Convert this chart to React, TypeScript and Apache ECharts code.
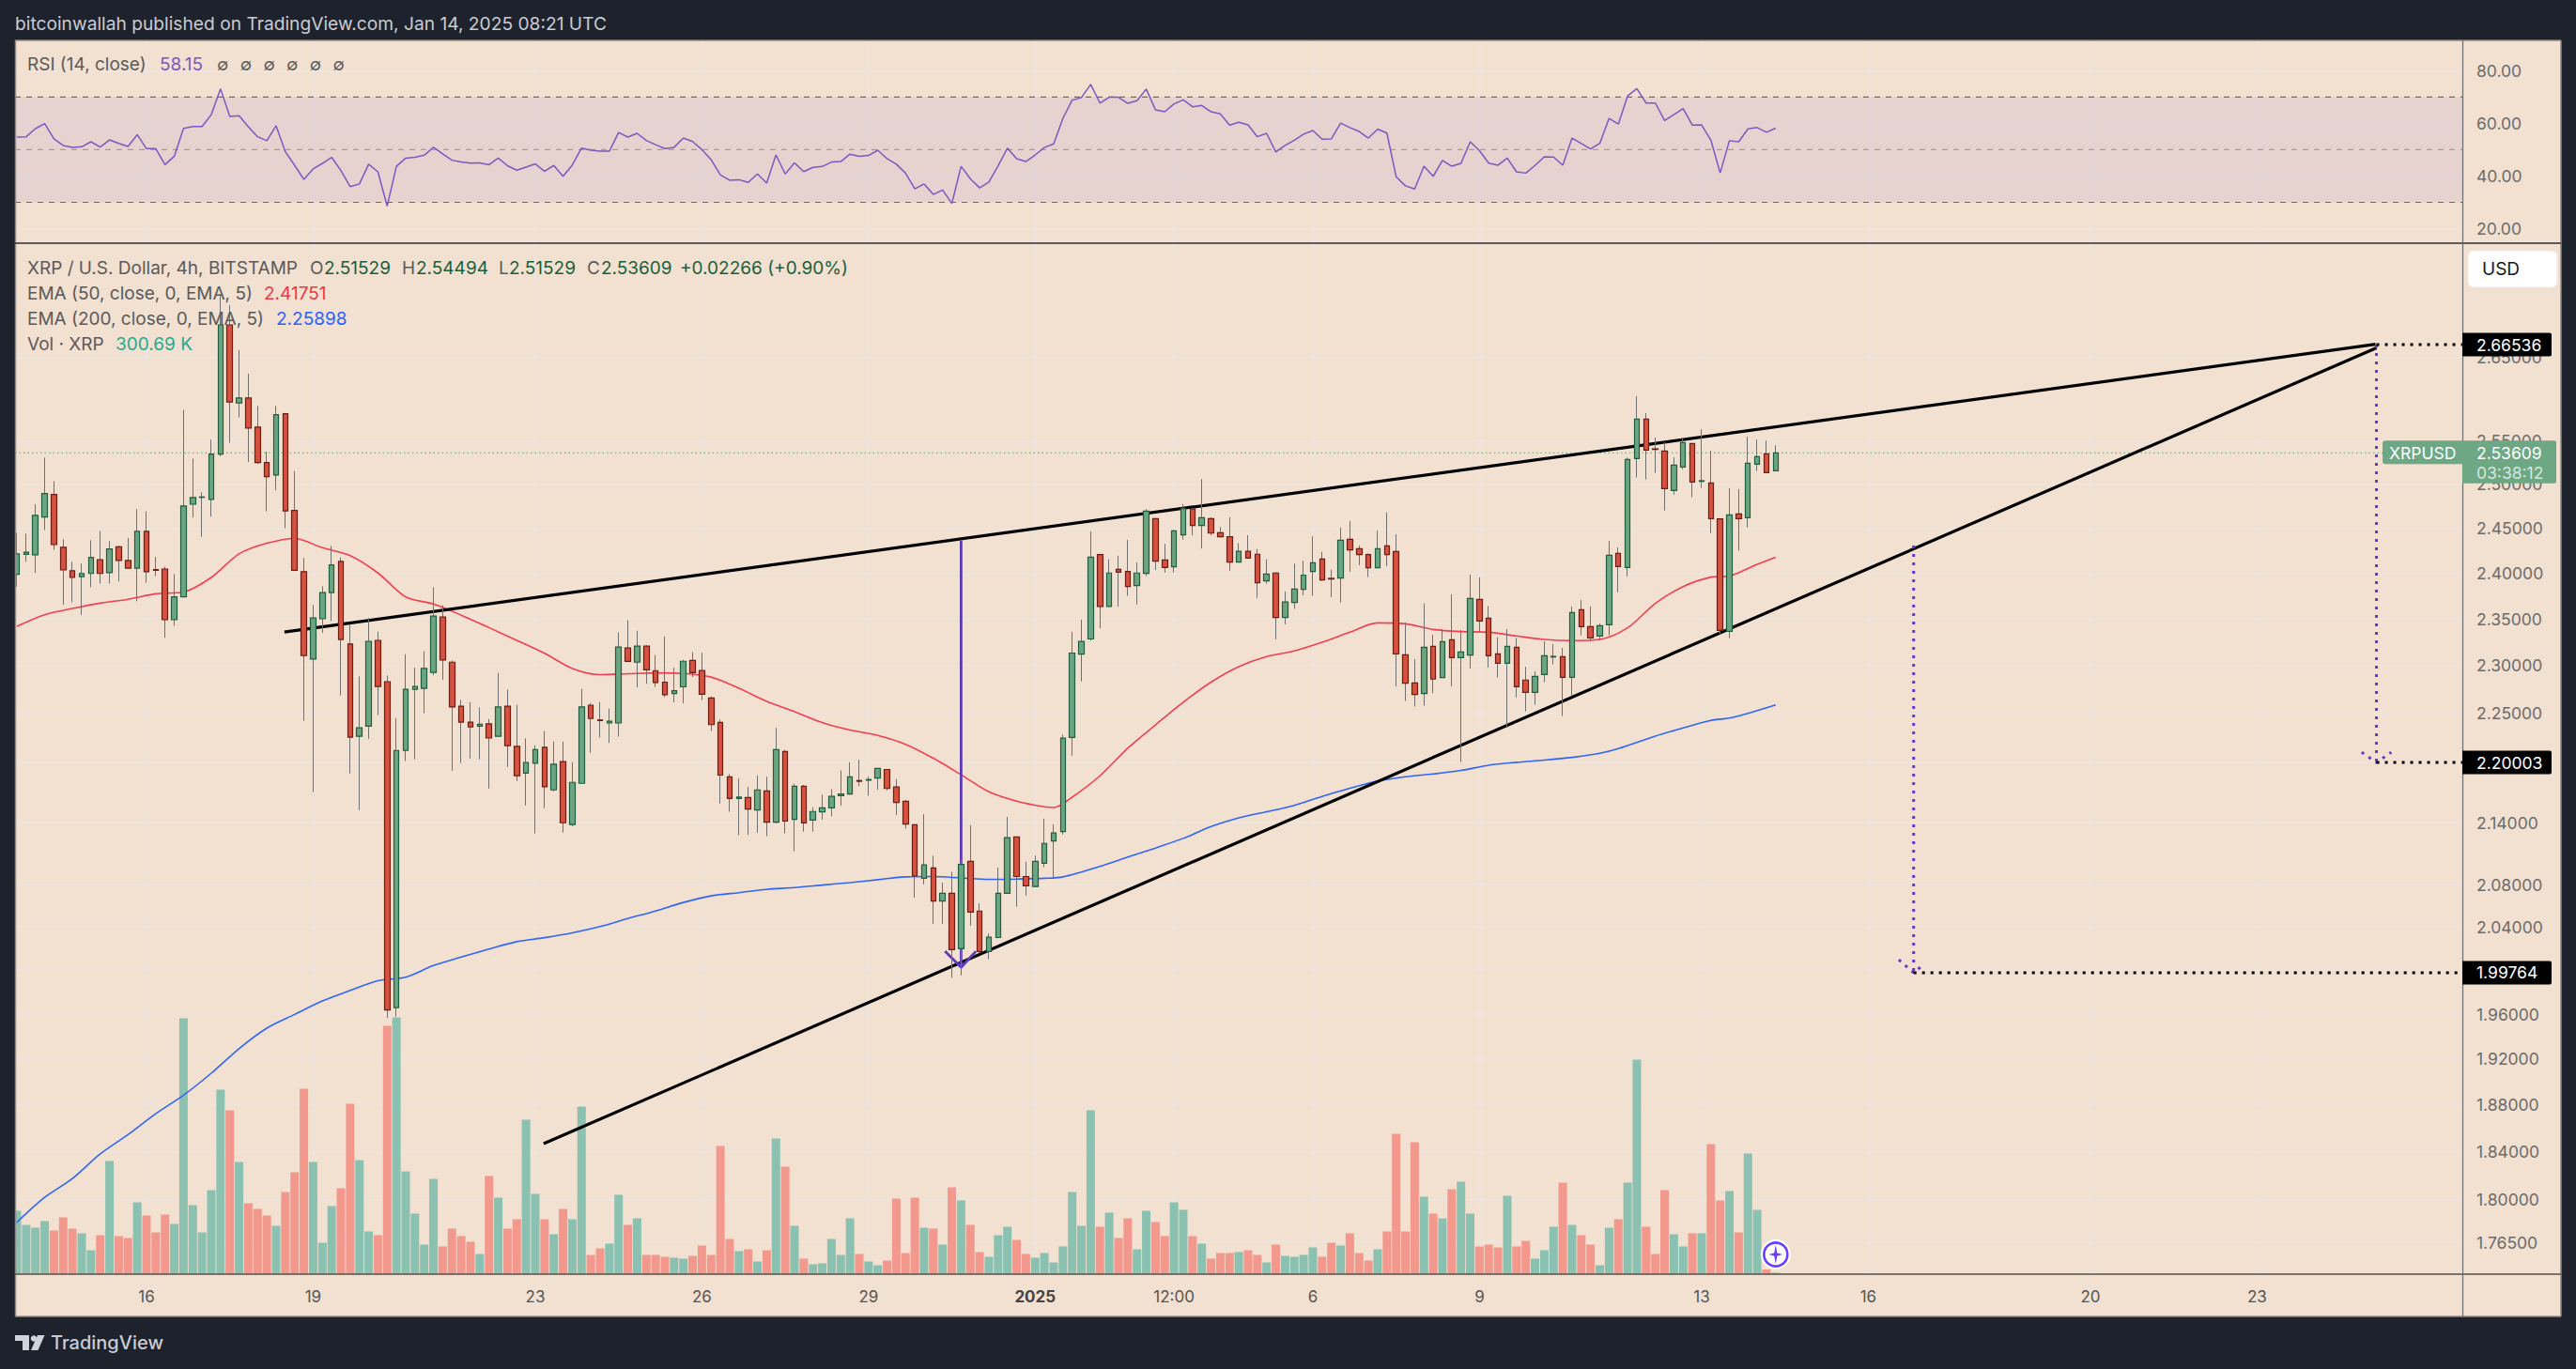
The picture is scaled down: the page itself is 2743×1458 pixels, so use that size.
import React, { useEffect, useRef } from "react";
import * as echarts from "echarts";

const opens = [2.3985,2.4207,2.4202,2.4624,2.4881,2.4285,2.4024,2.3961,2.3995,2.4148,
2.4005,2.429,2.4138,2.4054,2.4463,2.4038,2.4044,2.3491,2.3738,2.477,
2.4848,2.4825,2.5346,2.6896,2.595,2.6009,2.5663,2.5249,2.5105,2.582,
2.4699,2.4015,2.307,2.3501,2.3786,2.4128,2.3231,2.2267,2.2371,2.3269,
2.2832,1.9658,2.2122,2.2753,2.2762,2.2929,2.352,2.3037,2.2577,2.2412,
2.2371,2.2394,2.2267,2.2577,2.2163,2.1894,2.1992,2.2154,2.1725,2.201,
2.1382,2.1791,2.2587,2.2434,2.2403,2.2403,2.3188,2.3037,2.3207,2.2948,
2.2827,2.2707,2.2778,2.3055,2.2949,2.2662,2.2408,2.1855,2.1639,2.165,
2.1526,2.1714,2.1405,2.2112,2.1433,2.1761,2.1426,2.1508,2.1547,2.1668,
2.1685,2.1819,2.1822,2.1844,2.193,2.1754,2.1611,2.138,2.0861,2.0961,
2.0645,2.0717,2.0198,2.1023,2.055,2.0171,2.0301,2.0717,2.1261,2.0878,
2.0782,2.1006,2.1222,2.1313,2.2254,2.3123,2.3284,2.4204,2.3635,2.404,
2.4017,2.3863,2.3997,2.4606,2.4144,2.4069,2.4424,2.4715,2.4529,2.4606,
2.4448,2.4404,2.412,2.424,2.4208,2.3914,2.4,2.3515,2.3678,2.382,
2.4017,2.4155,2.3941,2.3944,2.4375,2.427,2.4204,2.4058,2.4301,2.4238,
2.3116,2.2819,2.2708,2.3206,2.2875,2.3276,2.3086,2.3112,2.3711,2.3507,
2.3126,2.3026,2.3196,2.2849,2.2721,2.2908,2.3092,2.3096,2.2878,2.3599,
2.3416,2.3316,2.3436,2.4218,2.4061,2.5295,2.5758,2.5408,2.5383,2.4927,
2.5197,2.547,2.5031,2.5013,2.4604,2.3366,2.466,2.4618,2.523,2.535,
2.51529];

const closes = [2.4212,2.4231,2.4644,2.4891,2.4315,2.4034,2.3951,2.3995,2.4172,2.3995,
2.4266,2.4138,2.4054,2.4463,2.4015,2.403,2.3491,2.3738,2.475,2.4846,
2.4853,2.5346,2.6896,2.5961,2.6009,2.5652,2.5249,2.5085,2.5809,2.4694,
2.4029,2.3108,2.351,2.3786,2.4089,2.3278,2.2258,2.2353,2.3259,2.2781,
1.9638,2.2122,2.2753,2.2781,2.2971,2.353,2.306,2.2568,2.2412,2.2362,
2.2389,2.2249,2.2568,2.2172,2.1867,2.2001,2.2131,2.1756,2.1983,2.14,
2.18,2.2568,2.2449,2.2428,2.2421,2.3198,2.3046,2.3207,2.2957,2.2823,
2.2696,2.2737,2.3047,2.2926,2.27,2.2386,2.1873,2.1639,2.1653,2.1536,
2.1725,2.1405,2.213,2.1416,2.1761,2.1398,2.1511,2.1547,2.166,2.1685,
2.1855,2.1811,2.1829,2.1941,2.1739,2.16,2.1387,2.0885,2.0989,2.0645,
2.0717,2.0188,2.0995,2.054,2.0171,2.0304,2.0717,2.1254,2.0878,2.0789,
2.1023,2.1198,2.1299,2.2247,2.3134,2.3257,2.4176,2.3635,2.4,2.4009,
2.3851,2.4,2.4691,2.4132,2.4061,2.4468,2.472,2.4529,2.4618,2.4444,
2.4404,2.412,2.424,2.4164,2.3894,2.3989,2.3515,2.3682,2.3824,2.3977,
2.4112,2.3924,2.3934,2.4364,2.4256,2.4204,2.4058,2.427,2.4204,2.3126,
2.2816,2.2698,2.3196,2.2859,2.3256,2.3086,2.3146,2.3721,2.3477,2.3106,
2.3026,2.3206,2.278,2.2721,2.2888,2.3106,2.3099,2.2878,2.3569,2.3416,
2.3296,2.3426,2.4197,2.4072,2.5284,2.5758,2.5394,2.5401,2.4949,2.5219,
2.5481,2.5024,2.5039,2.4607,2.3376,2.4649,2.4607,2.5241,2.5317,2.5132,
2.53609];

const highs = [2.4448,2.4438,2.477,2.5305,2.5033,2.4374,2.4123,2.4104,2.4364,2.4468,
2.4354,2.4305,2.4389,2.4715,2.4689,2.4177,2.4069,2.399,2.5866,2.5295,
2.4906,2.5516,2.7258,2.7141,2.6588,2.63,2.5914,2.5376,2.5914,2.583,
2.5151,2.4167,2.3651,2.3854,2.43,2.4172,2.3444,2.2887,2.351,2.3363,
2.2897,2.2453,2.3122,2.298,2.3155,2.3844,2.3646,2.3056,2.2642,2.2619,
2.2563,2.2444,2.2924,2.2749,2.2591,2.2245,2.2176,2.2321,2.2213,2.2213,
2.2005,2.2758,2.261,2.2619,2.255,2.3354,2.3486,2.3373,2.3217,2.3112,
2.3311,2.2979,2.3062,2.3146,2.3138,2.2677,2.2438,2.1884,2.184,2.1754,
2.1869,2.1858,2.2353,2.213,2.1786,2.1775,2.1554,2.1678,2.1732,2.192,
2.2003,2.2028,2.1858,2.1941,2.193,2.1833,2.1625,2.1384,2.1483,2.1079,
2.082,2.0923,2.1044,2.1377,2.0624,2.0338,2.0964,2.1458,2.1261,2.102,
2.1079,2.144,2.1384,2.2284,2.3361,2.3492,2.4464,2.4212,2.4152,2.4192,
2.4367,2.4116,2.4715,2.4614,2.4323,2.448,2.4772,2.4724,2.5057,2.4622,
2.4513,2.4622,2.4331,2.442,2.4267,2.4152,2.4009,2.3796,2.4104,2.4136,
2.4408,2.4235,2.4037,2.4505,2.4579,2.4305,2.4218,2.4473,2.4678,2.4431,
2.3457,2.3069,2.3667,2.3329,2.339,2.3765,2.338,2.3982,2.3951,2.364,
2.3303,2.339,2.3296,2.299,2.2941,2.3259,2.3229,2.3189,2.3633,2.3704,
2.3633,2.345,2.4357,2.4284,2.5306,2.6029,2.5828,2.5539,2.5485,2.531,
2.5539,2.547,2.5639,2.5386,2.4607,2.4953,2.4942,2.555,2.5514,2.5506,
2.54494];

const lows = [2.3849,2.4123,2.4,2.4478,2.4256,2.3651,2.368,2.3545,2.3844,2.3883,
2.3883,2.3907,2.405,2.369,2.3893,2.3966,2.3297,2.3425,2.3738,2.4619,
2.4403,2.4629,2.532,2.5479,2.5778,2.5254,2.5233,2.4689,2.4931,2.4498,
2.402,2.2426,2.1703,2.3349,2.3477,2.2688,2.1889,2.1526,2.224,2.2485,
1.9565,1.9577,2.2014,2.2032,2.2503,2.2901,2.285,2.1916,2.1996,2.2041,
2.2032,2.1738,2.2263,2.1956,2.1814,2.157,2.1295,2.1544,2.1711,2.1304,
2.1365,2.1791,2.2099,2.2253,2.2199,2.2263,2.3037,2.2772,2.2809,2.2776,
2.267,2.2617,2.2606,2.288,2.264,2.232,2.159,2.1508,2.1278,2.1282,
2.1303,2.1268,2.1394,2.1296,2.112,2.1313,2.1313,2.143,2.1465,2.1568,
2.1678,2.1761,2.1668,2.1725,2.1721,2.1476,2.1341,2.0676,2.0803,2.0429,
2.0429,1.9929,1.9951,2.0412,2.0161,2.0101,2.0294,2.0717,2.0591,2.0696,
2.0775,2.0968,2.0865,2.1285,2.2068,2.2835,2.3265,2.3399,2.3632,2.3632,
2.3749,2.3655,2.3965,2.4033,2.4005,2.4005,2.4372,2.442,2.4271,2.442,
2.4396,2.4025,2.4116,2.4164,2.3725,2.3882,2.328,2.3442,2.3608,2.3757,
2.3749,2.3913,2.3735,2.3677,2.4013,2.4085,2.3955,2.4058,2.4075,2.2783,
2.263,2.2572,2.2582,2.2711,2.2875,2.2783,2.2005,2.297,2.3363,2.298,
2.2875,2.2355,2.2669,2.2523,2.2591,2.2826,2.3013,2.2474,2.2679,2.3323,
2.3263,2.3273,2.3323,2.3789,2.3962,2.5075,2.5053,2.5128,2.4699,2.4881,
2.5172,2.4848,2.4956,2.4445,2.3339,2.3293,2.4246,2.4508,2.515,2.5132,
2.51529];

const vols = [13.5,10.5,9.9,11.3,9.3,12.1,9.7,8.7,5.1,8.3,
24.1,8.1,7.7,15.3,12.5,8.9,12.7,10.7,54.5,14.7,
8.9,17.9,39.3,34.9,23.9,15.1,13.9,12.5,10.3,17.5,
21.7,39.5,23.9,6.7,14.5,18.3,36.3,24.3,9.1,8.3,
52.9,54.7,21.9,12.9,6.3,20.3,5.9,9.7,8.1,6.9,
4.3,20.9,16.3,9.7,11.7,32.9,17.1,11.7,8.5,13.9,
11.7,35.7,4.1,5.5,6.5,16.9,10.5,11.9,4.1,4.1,
3.7,3.5,3.3,3.9,6.1,4.1,27.3,7.5,4.9,5.3,
2.7,5.1,28.9,22.9,10.3,3.3,2.1,2.3,7.5,4.1,
11.9,4.3,2.7,1.9,2.9,16.1,4.5,16.3,9.9,9.7,
6.3,18.5,15.7,10.5,4.7,3.7,8.3,10.1,7.3,4.3,
3.5,4.5,2.5,5.9,17.5,10.3,34.9,10.1,13.1,7.7,
11.9,5.3,13.5,11.1,8.1,15.3,13.7,8.1,6.5,3.3,
4.5,4.5,4.7,5.1,4.1,2.5,6.3,3.9,3.7,4.1,
5.7,3.7,6.7,6.1,8.7,4.5,2.9,5.3,9.1,29.9,
9.1,28.1,16.5,12.9,11.9,18.1,19.7,12.9,5.9,6.3,
5.7,16.7,5.9,7.1,3.3,5.1,10.1,19.5,10.5,8.3,
6.3,1.9,9.9,11.7,19.5,45.7,10.1,4.3,17.9,8.5,
5.9,8.7,8.7,27.7,15.7,17.7,8.9,25.7,13.7,1.0,
0.30069];

const rsi = [54.8,54.9,58.0,59.9,54.1,51.6,50.9,51.1,53.0,51.0,
53.7,52.4,51.2,55.7,50.4,50.4,44.3,47.5,58.1,58.8,
58.8,63.3,73.1,62.6,62.9,58.7,54.9,53.4,59.1,49.2,
44.1,38.7,42.7,44.8,47.1,42.1,36.0,37.0,44.5,41.6,
28.6,43.7,46.8,47.1,47.9,50.9,48.4,46.0,45.3,44.9,
45.0,44.3,46.8,43.9,42.2,43.4,44.6,41.8,44.0,39.9,
44.2,50.6,49.8,49.4,49.4,56.5,54.8,56.2,53.5,51.9,
50.4,50.9,54.4,53.1,50.0,46.2,40.4,38.4,38.6,37.6,
40.8,37.3,48.0,40.8,45.0,41.7,43.3,43.6,45.3,45.5,
48.3,47.5,47.8,49.8,46.6,44.5,41.1,35.1,37.0,33.0,
34.7,29.6,43.7,38.9,35.5,37.7,43.9,50.6,46.6,45.5,
48.0,50.8,52.2,61.9,68.8,69.8,74.8,67.7,69.9,69.9,
67.6,68.6,73.0,65.1,64.4,67.4,68.9,66.3,66.8,64.4,
63.6,59.3,60.4,59.4,54.9,56.2,49.1,51.6,53.6,55.9,
57.3,54.0,54.1,60.1,58.4,56.9,54.4,57.8,56.3,39.7,
36.3,35.1,43.7,39.9,45.9,43.7,44.8,53.0,49.6,44.9,
44.1,46.8,41.6,41.1,44.0,47.3,47.2,44.1,54.4,52.3,
50.3,52.4,61.9,59.7,70.4,73.2,67.7,67.7,61.1,63.3,
65.6,59.3,59.4,53.6,41.2,53.4,53.0,57.9,58.4,56.6,
58.15];

const ema50Idx = [0,3,6,9,12,15,18,21,24,27,30,33,36,39,42,45,48,51,54,57,60,63,66,69,
72,75,78,81,84,87,90,93,96,99,102,105,108,111,112,114,117,120,123,126,129,132,135,138,
141,144,147,150,153,156,159,162,165,168,171,174,177,180,183,185,188,190];
const ema50Val = [2.342,2.3545,2.3612,2.367,2.3713,2.3772,2.3791,2.3951,2.4212,2.433,2.4384,2.428,2.4192,2.4,2.3738,2.3661,2.354,2.3406,2.3269,2.3131,2.2971,2.2906,2.2915,2.2924,
2.2918,2.288,2.2763,2.2625,2.252,2.2408,2.2331,2.2276,2.2185,2.2043,2.1877,2.1707,2.1614,2.1557,2.155,2.1653,2.1866,2.2145,2.2383,2.2617,2.2827,2.299,2.3097,2.3157,
2.3249,2.3356,2.3457,2.3447,2.3386,2.3363,2.3356,2.3316,2.3279,2.3266,2.3279,2.3403,2.3667,2.3851,2.3955,2.3968,2.4096,2.41751];

const ema200Idx = [0,3,6,9,12,15,18,21,24,27,30,33,36,39,42,45,48,51,54,57,60,63,66,69,
72,75,78,81,84,87,90,93,96,99,102,105,108,111,113,117,120,123,126,129,132,135,138,
141,144,147,150,153,156,159,162,165,168,171,173,177,180,183,185,187,190];
const ema200Val = [1.7813,1.8018,1.8175,1.8381,1.8545,1.8724,1.8884,1.9075,1.9292,1.9474,1.9597,1.9718,1.9814,1.9903,1.9935,2.0042,2.012,2.0194,2.0263,2.03,2.0345,2.0404,2.0479,2.055,
2.0631,2.0693,2.0724,2.0755,2.0772,2.0796,2.082,2.0848,2.0875,2.0878,2.0865,2.0851,2.0854,2.0861,2.0875,2.0975,2.1065,2.1153,2.1247,2.1362,2.1448,2.1508,2.1572,
2.166,2.1741,2.1813,2.1857,2.1885,2.192,2.1973,2.2002,2.2024,2.2052,2.2093,2.2141,2.2269,2.2352,2.2429,2.2454,2.2503,2.25898];

const priceTicks = [1.765,1.8,1.84,1.88,1.92,1.96,2.0,2.04,2.08,2.14,2.2,2.25,2.3,2.35,2.4,2.45,2.5,2.55,2.65];
const priceLabels = [1.765,1.8,1.84,1.88,1.92,1.96,2.04,2.08,2.14,2.25,2.3,2.35,2.4,2.45,2.5,2.55,2.65];
const rsiTicks = [20,40,60,80];
const timeTickIdx = [14,32,56,74,92,110,125,140,158,182,200,224,242];
const timeTickText = ["16","19","23","26","29","2025","12:00","6","9","13","16","20","23"];

const resistanceLine = [[28.9,2.3358],[254.8,2.6658]];
const supportLine = [[56.9,1.8468],[254.9,2.6613]];
const measureLine = [[102,2.4363],[102,2.0025]];
const measureArrow = [[100.26,2.0174],[102,2.0025],[103.6,2.0174]];
const targetOneLine = [[254.9,2.6653],[254.9,2.20003]];
const targetOneArrow = [[253.3,2.2104],[254.9,2.20003],[256.5,2.2104]];
const targetTwoLine = [[204.9,2.4304],[204.9,1.99764]];
const targetTwoArrow = [[203.3,2.0095],[204.9,1.99764],[206,2.0052]];
const LEVEL_A = 2.66536, LEVEL_B = 2.20003, LEVEL_C = 1.99764, LAST = 2.53609;

const X_MIN = -0.203, X_MAX = 264.18;
const BG = "#F2E0D0", FRAME = "#1E222D";
const FONT = "Inter";

function txt(text: string, x: number, y: number, fill: string, size = 19, extra: any = {}) {
  return { type: "text", z: 60, silent: true, style: { text, x, y, fill, fontSize: size, fontFamily: FONT, verticalAlign: "middle", ...extra } };
}
function box(x: number, y: number, w: number, h: number, fill: string, r: any = 0, z = 55) {
  return { type: "rect", z, silent: true, shape: { x, y, width: w, height: h, r }, style: { fill } };
}
function rule(x1: number, y1: number, x2: number, y2: number, stroke: string, w = 1, z = 50) {
  return { type: "line", z, silent: true, shape: { x1, y1, x2, y2 }, style: { stroke, lineWidth: w } };
}

function plain(name: string, data: number[][], xi: number, yi: number, color: string, width: number, z: number, dash?: any, smooth: any = false) {
  return { name, type: "line", xAxisIndex: xi, yAxisIndex: yi, data, showSymbol: false, symbol: "none", z, silent: true, smooth,
    lineStyle: { color, width, type: dash ?? "solid" } };
}

export default function App() {
  const ref = useRef<HTMLDivElement>(null);
  useEffect(() => {
    document.body.style.margin = "0";
    document.body.style.background = FRAME;
    const chart = echarts.init(ref.current!, null, { renderer: "svg" });
    const idx = opens.map((_, i) => i);
    const xCommon = { type: "value", min: X_MIN, max: X_MAX, axisLine: { show: false },
      splitLine: { show: true, lineStyle: { color: "#ECE6E1", width: 1.5 } },
      axisTick: { show: false, customValues: timeTickIdx } };
    const option: any = {
      animation: false,
      backgroundColor: FRAME,
      grid: [
        { left: 16, top: 43, width: 2606, height: 216 },
        { left: 16, top: 259, width: 2606, height: 1098 },
        { left: 16, top: 1080, width: 2606, height: 277 },
      ],
      xAxis: [
        { ...xCommon, gridIndex: 0, axisLabel: { show: false, customValues: timeTickIdx } },
        { ...xCommon, gridIndex: 1, axisLabel: { show: true, customValues: timeTickIdx, margin: 15, color: "#555555", fontSize: 17, fontFamily: FONT,
            formatter: (v: number) => { const s = timeTickText[timeTickIdx.indexOf(Math.round(v))] ?? ""; return s === "2025" ? "{b|2025}" : s; },
            rich: { b: { fontWeight: 700, fontSize: 17, fontFamily: FONT, color: "#444444" } } } },
        { type: "value", gridIndex: 2, min: X_MIN, max: X_MAX, show: false, splitLine: { show: false } },
      ],
      yAxis: [
        { type: "value", gridIndex: 0, position: "right", min: 14.5, max: 91.5, axisLine: { show: false },
          axisTick: { show: false, customValues: rsiTicks },
          axisLabel: { customValues: rsiTicks, margin: 15, color: "#6B6B6B", fontSize: 17.5, fontFamily: FONT, formatter: (v: number) => v.toFixed(2) },
          splitLine: { show: true, lineStyle: { color: "#ECE6E1", width: 1.5 } } },
        { type: "log", logBase: 10, gridIndex: 1, position: "right", min: 1.7394, max: 2.7924, axisLine: { show: false },
          axisTick: { show: false, customValues: priceTicks },
          axisLabel: { customValues: priceLabels, margin: 15, color: "#6B6B6B", fontSize: 17.5, fontFamily: FONT, formatter: (v: number) => v.toFixed(5), showMinLabel: true, showMaxLabel: true },
          splitLine: { show: true, lineStyle: { color: "#ECE6E1", width: 1.5 } } },
        { type: "value", gridIndex: 2, min: 0, max: 55.4, show: false, splitLine: { show: false } },
      ],
      series: [
        { name: "Vol", type: "bar", xAxisIndex: 2, yAxisIndex: 2, barWidth: 9, z: 2, silent: true,
          data: idx.map((i) => ({ value: [i, vols[i]], itemStyle: { color: closes[i] >= opens[i] ? "#8BC1B1" : "#F3988C" } })) },
        { ...plain("RSI", idx.map((i) => [i, rsi[i]]), 0, 0, "#7E57C2", 1.5, 5),
          markArea: { silent: true, itemStyle: { color: "rgba(126,87,194,0.1)" }, data: [[{ yAxis: 70 }, { yAxis: 30 }]] } },
        plain("RSI upper", [[X_MIN, 70], [X_MAX, 70]], 0, 0, "#6F6A6A", 1.2, 4, [6, 6]),
        plain("RSI mid", [[X_MIN, 50], [X_MAX, 50]], 0, 0, "#A89C94", 1.2, 4, [6, 6]),
        plain("RSI lower", [[X_MIN, 30], [X_MAX, 30]], 0, 0, "#6F6A6A", 1.2, 4, [6, 6]),
        plain("Last", [[X_MIN, LAST], [X_MAX, LAST]], 1, 1, "#5FA27F", 1, 3, [1.5, 3]),
        plain("EMA 50", ema50Idx.map((x, i) => [x, ema50Val[i]]), 1, 1, "#F23F52", 1.6, 6, undefined, 0.3),
        plain("EMA 200", ema200Idx.map((x, i) => [x, ema200Val[i]]), 1, 1, "#2F66F5", 1.6, 6, undefined, 0.3),
        plain("Resistance", resistanceLine, 1, 1, "#000000", 3.2, 7),
        plain("Support", supportLine, 1, 1, "#000000", 3.2, 7),
        plain("Measure", measureLine, 1, 1, "#5B3CB4", 2.8, 7),
        plain("Measure arrow", measureArrow, 1, 1, "#5B3CB4", 2.8, 7),
        plain("Target 1", targetOneLine, 1, 1, "#6A35C8", 3, 7, [3, 6]),
        plain("Target 1 arrow", targetOneArrow, 1, 1, "#6A35C8", 3, 7, [3, 6]),
        plain("Target 2", targetTwoLine, 1, 1, "#6A35C8", 3, 7, [3, 6]),
        plain("Target 2 arrow", targetTwoArrow, 1, 1, "#6A35C8", 3, 7, [3, 6]),
        plain("Level A", [[254.9, LEVEL_A], [X_MAX, LEVEL_A]], 1, 1, "#000000", 3, 7, [3, 6]),
        plain("Level B", [[254.9, LEVEL_B], [X_MAX, LEVEL_B]], 1, 1, "#000000", 3, 7, [3, 6]),
        plain("Level C", [[204.9, LEVEL_C], [X_MAX, LEVEL_C]], 1, 1, "#000000", 3, 7, [3, 6]),
        { name: "Wicks", type: "candlestick", xAxisIndex: 1, yAxisIndex: 1, barWidth: 0.1, z: 8, silent: true,
          itemStyle: { color: "#707070", color0: "#707070", borderColor: "#707070", borderColor0: "#707070", borderWidth: 1 },
          data: idx.map((i) => [i, opens[i], closes[i], lows[i], highs[i]]) },
        { name: "XRPUSD", type: "candlestick", xAxisIndex: 1, yAxisIndex: 1, barWidth: 6, z: 9, silent: true,
          itemStyle: { color: "#6BA583", color0: "#D6523F", borderColor: "#1F5F3F", borderColor0: "#6B1D16", borderWidth: 1.2 },
          data: idx.map((i) => [i, opens[i], closes[i], Math.min(opens[i], closes[i]), Math.max(opens[i], closes[i])]) },
      ],
    };
    chart.setOption(option);

    const py = (p: number) => chart.convertToPixel({ yAxisIndex: 1 } as any, p) as number;
    const tag = (p: number) => {
      const y = py(p);
      return [box(2622, y - 12.5, 95, 25, "#000000", [0, 2, 2, 0]), txt(p.toFixed(5), 2637, y, "#FFFFFF", 17.5)];
    };
    const lastY = py(LAST);
    const iconX = chart.convertToPixel({ xAxisIndex: 1 } as any, 190) as number;
    const dimTexts = [0, 1, 2, 3, 4, 5].map((k) => txt("∅", 231 + k * 24.7, 68, "#5A5A5A", 18));
    const graphic = [
      { ...box(16, 43, 2711, 1359, BG, 0, -1) },
      box(0, 0, 16, 1458, FRAME, 0, 40),
      rule(16, 43, 2727, 43, "#8F8A85", 1.5),
      rule(16.5, 43, 16.5, 1402, "#8F8A85", 1.5),
      rule(2727, 43, 2727, 1402, "#8F8A85", 1.5),
      rule(16, 1402, 2727, 1402, "#8F8A85", 1.5),
      rule(16, 259, 2727, 259, "#2B2B33", 1.5),
      rule(16, 1357, 2727, 1357, "#55514E", 1.5),
      rule(2622.5, 43, 2622.5, 1402, "#6B6B6B", 1.2),
      txt("bitcoinwallah published on TradingView.com, Jan 14, 2025 08:21 UTC", 16, 25, "#C9CCD3", 19.2),
      txt("RSI (14, close)", 29, 68, "#5A5A5A"),
      txt("58.15", 170, 68, "#7E57C2"),
      ...dimTexts,
      txt("XRP / U.S. Dollar, 4h, BITSTAMP", 29, 285, "#5A5A5A"),
      txt("O", 330, 285, "#5A5A5A"), txt("2.51529", 345, 285, "#1B5E3A"),
      txt("H", 428, 285, "#5A5A5A"), txt("2.54494", 443, 285, "#1B5E3A"),
      txt("L", 531, 285, "#5A5A5A"), txt("2.51529", 542, 285, "#1B5E3A"),
      txt("C", 625, 285, "#5A5A5A"), txt("2.53609", 640, 285, "#1B5E3A"),
      txt("+0.02266 (+0.90%)", 724, 285, "#1B5E3A"),
      txt("EMA (50, close, 0, EMA, 5)", 29, 312.5, "#5A5A5A"),
      txt("2.41751", 281, 312.5, "#F23645"),
      txt("EMA (200, close, 0, EMA, 5)", 29, 339.5, "#5A5A5A"),
      txt("2.25898", 294, 339.5, "#2962FF"),
      txt("Vol · XRP", 29, 366.5, "#5A5A5A"),
      txt("300.69 K", 123, 366.5, "#22AB94"),
      { ...box(2628, 267, 95, 39, "#FFFFFF", 6), style: { fill: "#FFFFFF", stroke: "#F0ECE8", lineWidth: 1 } },
      txt("USD", 2643, 286, "#131722", 19),
      ...tag(LEVEL_A), ...tag(LEVEL_B), ...tag(LEVEL_C),
      box(2537, lastY - 13, 85, 25, "#6DA784", [3, 0, 0, 3]),
      txt("XRPUSD", 2544, lastY, "#FFFFFF", 17.5),
      box(2622, lastY - 13, 100, 45.5, "#6DA784", [0, 2, 2, 0]),
      txt("2.53609", 2637, lastY, "#FFFFFF", 17.5),
      txt("03:38:12", 2637, lastY + 21, "#D5E6DB", 17.5),
      { type: "circle", z: 60, silent: true, shape: { cx: iconX, cy: 1336, r: 15 }, style: { fill: "#FFFFFF", stroke: "#FFFFFF", lineWidth: 2 } },
      { type: "circle", z: 61, silent: true, shape: { cx: iconX, cy: 1336, r: 12.5 }, style: { fill: "#FFFFFF", stroke: "#6C3CFF", lineWidth: 2.6 } },
      { type: "polygon", z: 62, silent: true, shape: { points: [[iconX, 1326], [iconX + 1.6, 1334.4], [iconX + 7.5, 1336], [iconX + 1.6, 1337.6], [iconX, 1346], [iconX - 1.6, 1337.6], [iconX - 7.5, 1336], [iconX - 1.6, 1334.4]] }, style: { fill: "#6C3CFF" } },
      { type: "polygon", z: 60, silent: true, shape: { points: [[16, 1422], [31, 1422], [31, 1438], [24, 1438], [24, 1428], [16, 1428]] }, style: { fill: "#D1D4DC" } },
      { type: "circle", z: 60, silent: true, shape: { cx: 36, cy: 1425.5, r: 3.2 }, style: { fill: "#D1D4DC" } },
      { type: "polygon", z: 60, silent: true, shape: { points: [[33, 1438], [40, 1422], [47.5, 1422], [40.5, 1438]] }, style: { fill: "#D1D4DC" } },
      txt("TradingView", 54, 1430, "#C9CCD3", 20, { fontWeight: 500 }),
    ];
    chart.setOption({ graphic });
    return () => chart.dispose();
  }, []);
  return <div ref={ref} style={{ position: "fixed", left: 0, top: 0, width: 2743, height: 1458 }} />;
}
